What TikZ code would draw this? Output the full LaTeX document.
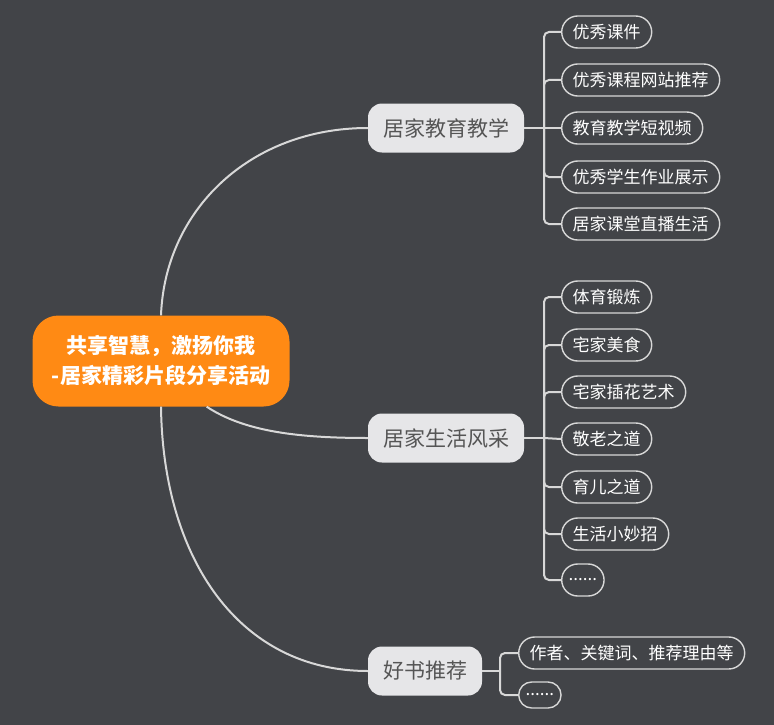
\documentclass[tikz,border=0pt]{standalone}
\usepackage{fontspec}
\setmainfont{Noto Sans CJK SC}
\usetikzlibrary{positioning}
\definecolor{slate}{HTML}{424448}
\definecolor{amber}{HTML}{FF8A14}
\definecolor{mist}{HTML}{E6E6E8}
\definecolor{ink}{HTML}{555555}
\definecolor{wire}{HTML}{D8D8D8}

\begin{document}
\begin{tikzpicture}[
    x=1pt, y=-1pt,
    every node/.style={font=\fontsize{17}{20}\selectfont},
    topic/.style={rectangle, rounded corners=14pt, fill=mist, text=ink, font=\fontsize{21}{25}\selectfont, minimum height=49pt, inner xsep=15pt},
    leaf/.style={rectangle, rounded corners=16pt, draw=wire, line width=1.4pt, text=white, minimum height=32pt, inner xsep=11pt, anchor=west},
    link/.style={draw=wire, line width=2pt}
]
    % Dark canvas
    \fill[slate] (0,0) rectangle (774,725);
    \useasboundingbox (0,0) rectangle (774,725);

    % Central theme
    \node[rectangle, rounded corners=26pt, fill=amber, text=white, font=\bfseries\fontsize{21}{30}\selectfont, align=center, minimum width=257pt, minimum height=91pt] (root) at (161,361) {共享智慧，激扬你我\\-居家精彩片段分享活动};

    % Main topics
    \node[topic] (home) at (446,128) {居家教育教学};
    \node[topic] (life) at (446,438) {居家生活风采};
    \node[topic] (book) at (425,671) {好书推荐};

    % Curved links from the centre
    \draw[link] (root.north) .. controls (165,210) and (250,128) .. (home.west);
    \draw[link] (root.-45) .. controls (245,432) and (300,438) .. (life.west);
    \draw[link] (root.south) .. controls (163,560) and (240,671) .. (book.west);

    % Teaching at home
    \node[leaf] (course) at (561,32) {优秀课件};
    \node[leaf] (site) at (561,80) {优秀课程网站推荐};
    \node[leaf] (video) at (561,128) {教育教学短视频};
    \node[leaf] (work) at (561,177) {优秀学生作业展示};
    \node[leaf] (live) at (561,224) {居家课堂直播生活};

    \coordinate (homeT) at (544,128);
    \draw[link] (home.east) -- (homeT);
    \draw[link, rounded corners=5pt] (homeT) |- (course.west);
    \draw[link, rounded corners=5pt] (homeT) |- (site.west);
    \draw[link] (homeT) -- (video.west);
    \draw[link, rounded corners=5pt] (homeT) |- (work.west);
    \draw[link, rounded corners=5pt] (homeT) |- (live.west);

    % Life at home
    \node[leaf] (sport) at (561,297) {体育锻炼};
    \node[leaf] (food) at (561,345) {宅家美食};
    \node[leaf] (flower) at (561,392) {宅家插花艺术};
    \node[leaf] (elder) at (561,439) {敬老之道};
    \node[leaf] (child) at (561,487) {育儿之道};
    \node[leaf] (tips) at (561,534) {生活小妙招};
    \node[leaf, inner xsep=7pt] (lifeMore) at (561,580) {......};

    \coordinate (lifeT) at (544,438);
    \draw[link] (life.east) -- (lifeT);
    \draw[link, rounded corners=5pt] (lifeT) |- (sport.west);
    \draw[link, rounded corners=5pt] (lifeT) |- (food.west);
    \draw[link, rounded corners=5pt] (lifeT) |- (flower.west);
    \draw[link] (lifeT) -- (elder.west);
    \draw[link, rounded corners=5pt] (lifeT) |- (child.west);
    \draw[link, rounded corners=5pt] (lifeT) |- (tips.west);
    \draw[link, rounded corners=5pt] (lifeT) |- (lifeMore.west);

    % Book recommendation
    \node[leaf] (author) at (518,653) {作者、关键词、推荐理由等};
    \node[leaf, inner xsep=7pt, minimum height=26pt, rounded corners=13pt] (bookMore) at (518,695) {......};

    \coordinate (bookT) at (500,671);
    \draw[link] (book.east) -- (bookT);
    \draw[link, rounded corners=5pt] (bookT) |- (author.west);
    \draw[link, rounded corners=5pt] (bookT) |- (bookMore.west);
\end{tikzpicture}
\end{document}
